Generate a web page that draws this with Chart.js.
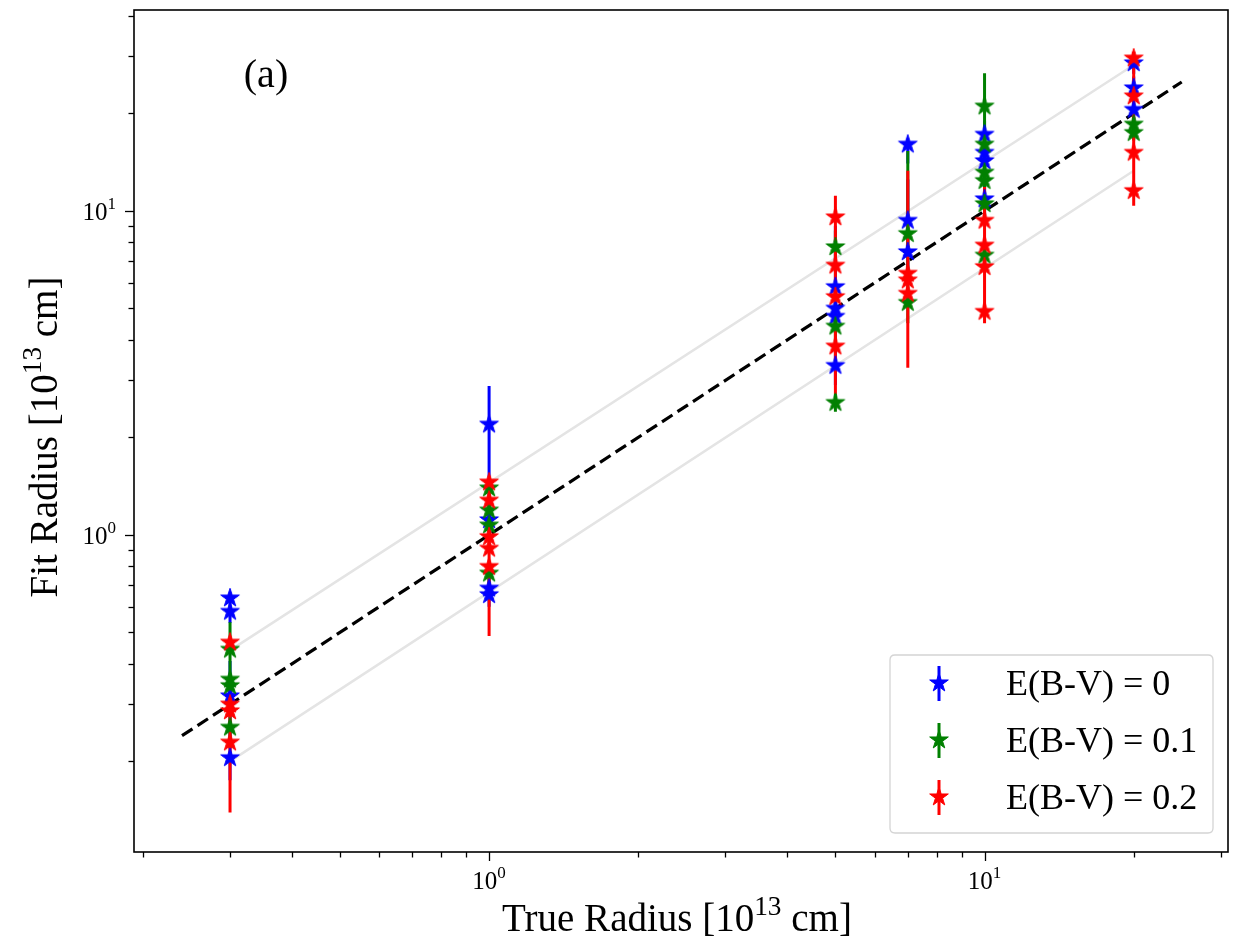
<!DOCTYPE html>
<html><head><meta charset="utf-8">
<script src="https://cdn.jsdelivr.net/npm/chart.js@4.4.1/dist/chart.umd.min.js"></script>
<style>html,body{margin:0;padding:0;background:#fff;}#wrap{width:1243px;height:941px;}</style>
</head><body><div id="wrap"><canvas id="c" width="1243" height="941"></canvas></div>
<script>
// ---------------- data ----------------
const seriesLabels = ['E(B-V) = 0', 'E(B-V) = 0.1', 'E(B-V) = 0.2'];
const seriesColors = ['#0000ff', '#008000', '#ff0000'];

// E(B-V) = 0
const ebv0X  = [0.3,0.3,0.3,0.3, 1,1,1,1, 5,5,5,5, 7,7,7, 10,10,10,10, 20,20,20];
const ebv0Y  = [0.638,0.580,0.318,0.205, 2.194,1.112,0.684,0.653, 5.83,5.00,4.72,3.33, 16.05,9.34,7.47, 17.22,15.14,14.26,10.88, 28.6,23.95,20.55];
const ebv0Lo = [0.61,0.535,0.23,0.175, 1.50,1.02,0.63,0.60, 5.0,4.5,4.2,2.9, 14.0,7.5,6.2, 15.5,13.5,12.5,9.5, 26.5,21.5,19.0];
const ebv0Hi = [0.66,0.62,0.408,0.235, 2.88,1.20,0.74,0.71, 9.0,5.5,5.2,3.8, 16.5,12.5,8.8, 19.0,16.8,16.0,12.3, 30.0,26.0,22.0];

// E(B-V) = 0.1
const ebv1X  = [0.3,0.3,0.3,0.3, 1,1,1,1, 5,5,5, 7,7, 10,10,10,10,10,10, 20,20];
const ebv1Y  = [0.443,0.358,0.342,0.2545, 1.394,1.191,1.071,0.761, 7.74,4.40,2.56, 8.50,5.21, 21.04,16.05,13.15,12.39,10.51,7.29, 18.5,17.43];
const ebv1Lo = [0.35,0.32,0.30,0.22, 1.30,1.10,0.98,0.70, 6.8,3.9,2.40, 6.5,4.5, 15.5,14.0,12.0,11.2,9.5,6.6, 17.5,16.5];
const ebv1Hi = [0.537,0.40,0.38,0.29, 1.49,1.28,1.16,0.82, 8.7,4.9,2.72, 15.3,6.0, 26.6,18.0,14.3,13.5,11.5,8.0, 19.5,18.4];

// E(B-V) = 0.2
const ebv2X  = [0.3,0.3,0.3,0.3, 1,1,1,1,1, 5,5,5,5, 7,7,7, 10,10,10,10, 20,20,20,20];
const ebv2Y  = [0.466,0.300,0.286,0.229, 1.454,1.278,0.986,0.908,0.798, 9.57,6.79,5.43,3.82, 6.41,6.11,5.56, 9.34,7.83,6.72,4.89, 29.6,22.6,15.14,11.54];
const ebv2Lo = [0.45,0.28,0.27,0.139, 1.38,1.20,0.90,0.83,0.487, 8.0,6.0,4.9,2.72, 5.2,4.8,3.28, 6.8,6.9,5.9,4.50, 27.0,16.5,11.5,10.38];
const ebv2Hi = [0.48,0.32,0.30,0.316, 1.50,1.36,1.07,0.98,1.10, 11.14,7.6,6.0,4.9, 13.3,7.4,7.8, 11.85,8.8,7.5,6.8, 31.0,28.0,18.8,12.7];

// reference lines
const oneToOneX = [0.24, 25];
const oneToOneY = [0.24, 25];
const upperX = [0.3, 20];
const upperY = [0.44, 28.2];
const lowerX = [0.3, 20];
const lowerY = [0.2, 13.3];

// ticks
const xTickValues = [0.2,0.3,0.4,0.5,0.6,0.7,0.8,0.9,1,2,3,4,5,6,7,8,9,10,20,30];
const yTickValues = [0.2,0.3,0.4,0.5,0.6,0.7,0.8,0.9,1,2,3,4,5,6,7,8,9,10,20,30,40];
const xRange = [0.192, 31];
const yRange = [0.105, 41.7];

const xTitle = ['True Radius [10', '13', ' cm]'];
const yTitle = ['Fit Radius [10', '13', ' cm]'];
const panelLabel = '(a)';

// ---------------- helpers ----------------
const SERIF = '"Liberation Serif", "DejaVu Serif", serif';
function makeStar(color) {
  const c = document.createElement('canvas');
  c.width = 28; c.height = 28;
  const g = c.getContext('2d');
  starPath(g, 14, 14, 9.8);
  g.fillStyle = color; g.fill();
  g.lineWidth = 1; g.strokeStyle = color; g.stroke();
  return c;
}
function starPath(g, cx, cy, R) {
  const r = R * 0.381966;
  g.beginPath();
  for (let k = 0; k < 10; k++) {
    const a = -Math.PI / 2 + k * Math.PI / 5;
    const rr = k % 2 === 0 ? R : r;
    const px = cx + rr * Math.cos(a), py = cy + rr * Math.sin(a);
    if (k === 0) g.moveTo(px, py); else g.lineTo(px, py);
  }
  g.closePath();
}
function pts(xs, ys) { return xs.map((x, i) => ({ x: x, y: ys[i] })); }
function barPts(xs, lo, hi) {
  const out = [];
  xs.forEach((x, i) => { out.push({ x: x, y: lo[i] }, { x: x, y: hi[i] }, { x: x, y: null }); });
  return out;
}

const allSeries = [
  { X: ebv0X, Y: ebv0Y, Lo: ebv0Lo, Hi: ebv0Hi },
  { X: ebv1X, Y: ebv1Y, Lo: ebv1Lo, Hi: ebv1Hi },
  { X: ebv2X, Y: ebv2Y, Lo: ebv2Lo, Hi: ebv2Hi },
];
const stars = seriesColors.map(makeStar);

const datasets = [
  { label: 'upper', data: pts(upperX, upperY), showLine: true, borderColor: '#e4e4e4', borderWidth: 2.5, pointRadius: 0, order: 20 },
  { label: 'lower', data: pts(lowerX, lowerY), showLine: true, borderColor: '#e4e4e4', borderWidth: 2.5, pointRadius: 0, order: 19 },
  { label: '1:1', data: pts(oneToOneX, oneToOneY), showLine: true, borderColor: '#000', borderWidth: 3.2, borderDash: [12.5, 6], pointRadius: 0, order: 18 },
];
allSeries.forEach((s, k) => {
  datasets.push({ label: seriesLabels[k] + ' err', data: barPts(s.X, s.Lo, s.Hi), showLine: true, spanGaps: false,
    borderColor: seriesColors[k], borderWidth: 3, borderCapStyle: 'butt', pointRadius: 0, order: 10 - k });
});
allSeries.forEach((s, k) => {
  datasets.push({ label: seriesLabels[k], data: pts(s.X, s.Y), showLine: false,
    pointStyle: stars[k], pointRadius: 9, backgroundColor: seriesColors[k], borderColor: seriesColors[k], order: 5 - k });
});

function isMajor(v) { const l = Math.log10(v); return Math.abs(l - Math.round(l)) < 1e-9; }

function drawSegments(ctx, segs, size, cx, baseY) {
  const supSize = size * 0.7;
  ctx.font = size + 'px ' + SERIF;
  const w0 = ctx.measureText(segs[0]).width;
  const w2 = ctx.measureText(segs[2]).width;
  ctx.font = supSize + 'px ' + SERIF;
  const w1 = ctx.measureText(segs[1]).width;
  let x = cx - (w0 + w1 + w2) / 2;
  ctx.textAlign = 'left'; ctx.textBaseline = 'alphabetic';
  ctx.font = size + 'px ' + SERIF; ctx.fillText(segs[0], x, baseY); x += w0;
  ctx.font = supSize + 'px ' + SERIF; ctx.fillText(segs[1], x, baseY - size * 0.42); x += w1;
  ctx.font = size + 'px ' + SERIF; ctx.fillText(segs[2], x, baseY);
}

const decor = {
  id: 'decor',
  afterDraw(chart) {
    const ctx = chart.ctx, a = chart.chartArea;
    const xs = chart.scales.x, ys = chart.scales.y;
    ctx.save();
    ctx.fillStyle = '#000'; ctx.strokeStyle = '#000';
    ctx.lineWidth = 1.6;
    ctx.strokeRect(a.left, a.top, a.right - a.left, a.bottom - a.top);
    ctx.lineWidth = 1.3;
    xTickValues.forEach(v => {
      const px = Math.round(xs.getPixelForValue(v)) + 0.5;
      const len = isMajor(v) ? 9 : 5.5;
      ctx.beginPath(); ctx.moveTo(px, a.bottom); ctx.lineTo(px, a.bottom + len); ctx.stroke();
    });
    yTickValues.forEach(v => {
      const py = Math.round(ys.getPixelForValue(v)) + 0.5;
      const len = isMajor(v) ? 9 : 5.5;
      ctx.beginPath(); ctx.moveTo(a.left, py); ctx.lineTo(a.left - len, py); ctx.stroke();
    });
    const tsz = 25, ssz = 17;
    xTickValues.filter(isMajor).forEach(v => {
      const px = xs.getPixelForValue(v);
      const e = String(Math.round(Math.log10(v)));
      ctx.font = tsz + 'px ' + SERIF; const w0 = ctx.measureText('10').width;
      ctx.font = ssz + 'px ' + SERIF; const w1 = ctx.measureText(e).width;
      const x0 = px - (w0 + w1) / 2;
      ctx.textAlign = 'left'; ctx.textBaseline = 'alphabetic';
      ctx.font = tsz + 'px ' + SERIF; ctx.fillText('10', x0, a.bottom + 37);
      ctx.font = ssz + 'px ' + SERIF; ctx.fillText(e, x0 + w0, a.bottom + 37 - 11);
    });
    yTickValues.filter(isMajor).forEach(v => {
      const py = ys.getPixelForValue(v);
      const e = String(Math.round(Math.log10(v)));
      ctx.font = ssz + 'px ' + SERIF; const w1 = ctx.measureText(e).width;
      ctx.font = tsz + 'px ' + SERIF; const w0 = ctx.measureText('10').width;
      const xr = a.left - 18;
      ctx.textAlign = 'left'; ctx.textBaseline = 'alphabetic';
      ctx.font = tsz + 'px ' + SERIF; ctx.fillText('10', xr - w1 - w0, py + 9);
      ctx.font = ssz + 'px ' + SERIF; ctx.fillText(e, xr - w1, py + 9 - 11);
    });
    drawSegments(ctx, xTitle, 39, (a.left + a.right) / 2 - 4, 931);
    ctx.save();
    ctx.translate(57, (a.top + a.bottom) / 2 + 6);
    ctx.rotate(-Math.PI / 2);
    drawSegments(ctx, yTitle, 39, 0, 0);
    ctx.restore();
    ctx.font = '40px ' + SERIF; ctx.textAlign = 'center'; ctx.textBaseline = 'alphabetic';
    ctx.fillText(panelLabel, 266, 87);
    const bx = 890, by = 655, bw = 323, bh = 178, r = 5;
    ctx.beginPath();
    ctx.moveTo(bx + r, by); ctx.lineTo(bx + bw - r, by); ctx.quadraticCurveTo(bx + bw, by, bx + bw, by + r);
    ctx.lineTo(bx + bw, by + bh - r); ctx.quadraticCurveTo(bx + bw, by + bh, bx + bw - r, by + bh);
    ctx.lineTo(bx + r, by + bh); ctx.quadraticCurveTo(bx, by + bh, bx, by + bh - r);
    ctx.lineTo(bx, by + r); ctx.quadraticCurveTo(bx, by, bx + r, by); ctx.closePath();
    ctx.fillStyle = 'rgba(255,255,255,0.85)'; ctx.fill();
    ctx.lineWidth = 1.3; ctx.strokeStyle = '#d4d4d4'; ctx.stroke();
    seriesLabels.forEach((lab, k) => {
      const cy = 683 + k * 57, ix = 939;
      ctx.strokeStyle = seriesColors[k]; ctx.lineWidth = 3;
      ctx.beginPath(); ctx.moveTo(ix, cy - 17); ctx.lineTo(ix, cy + 18); ctx.stroke();
      ctx.drawImage(stars[k], ix - 14, cy - 14);
      ctx.fillStyle = '#000'; ctx.font = '36px ' + SERIF; ctx.textAlign = 'left'; ctx.textBaseline = 'alphabetic';
      ctx.fillText(lab, 1006, cy + 12);
    });
    ctx.restore();
  }
};

new Chart(document.getElementById('c'), {
  type: 'scatter',
  data: { datasets: datasets },
  options: {
    responsive: false, animation: false, devicePixelRatio: 1,
    layout: { padding: { top: 5, right: 15, left: 0, bottom: 0 } },
    plugins: { legend: { display: false }, tooltip: { enabled: false } },
    scales: {
      x: { type: 'logarithmic', min: xRange[0], max: xRange[1],
        grid: { display: false }, border: { display: false }, ticks: { display: false },
        afterBuildTicks: s => { s.ticks = xTickValues.map(v => ({ value: v })); },
        afterFit: s => { s.height = 89; } },
      y: { type: 'logarithmic', min: yRange[0], max: yRange[1],
        grid: { display: false }, border: { display: false }, ticks: { display: false },
        afterBuildTicks: s => { s.ticks = yTickValues.map(v => ({ value: v })); },
        afterFit: s => { s.width = 134; } }
    }
  },
  plugins: [decor]
});
</script></body></html>
